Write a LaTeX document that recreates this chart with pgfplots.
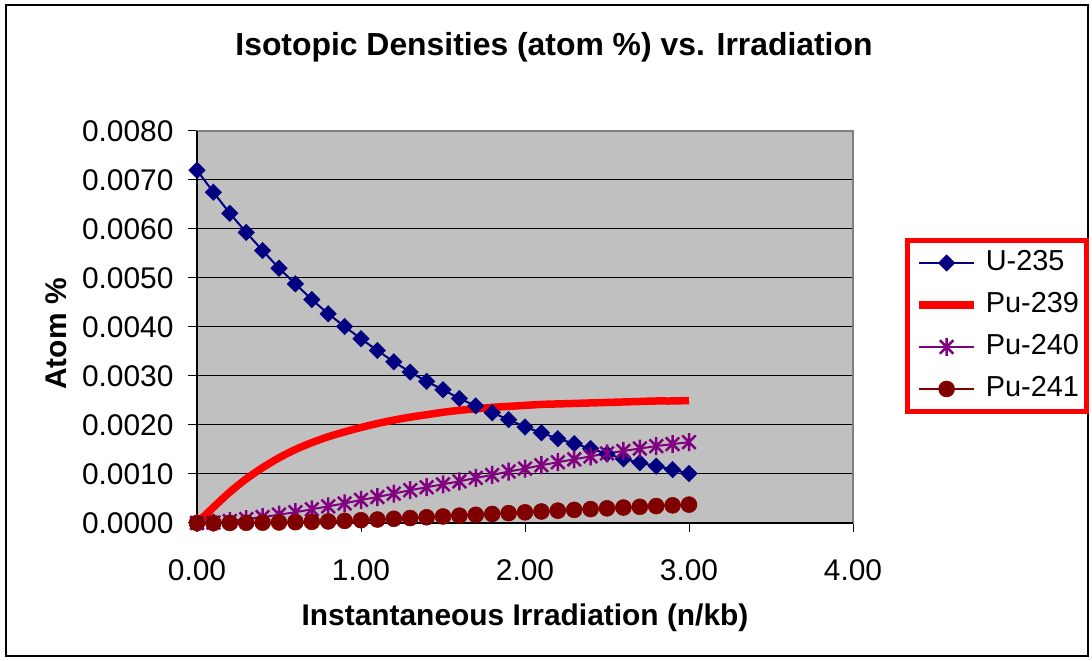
\documentclass[border=0pt]{standalone}
\usepackage{pgfplots}
\pgfplotsset{compat=1.18}
\usepackage{pgfplotstable}
\usepackage{fontspec}
\setmainfont{Liberation Sans}
\definecolor{navyc}{HTML}{000080}
\definecolor{purplec}{HTML}{800080}
\definecolor{maroonc}{HTML}{800000}
\definecolor{plotbg}{HTML}{C0C0C0}
\definecolor{redc}{HTML}{FF0000}

\pgfdeclareplotmark{xstar}{%
  \pgfpathmoveto{\pgfqpoint{0pt}{\pgfplotmarksize}}%
  \pgfpathlineto{\pgfqpoint{0pt}{-\pgfplotmarksize}}%
  \pgfpathmoveto{\pgfqpoint{-0.75\pgfplotmarksize}{-0.75\pgfplotmarksize}}%
  \pgfpathlineto{\pgfqpoint{0.75\pgfplotmarksize}{0.75\pgfplotmarksize}}%
  \pgfpathmoveto{\pgfqpoint{-0.75\pgfplotmarksize}{0.75\pgfplotmarksize}}%
  \pgfpathlineto{\pgfqpoint{0.75\pgfplotmarksize}{-0.75\pgfplotmarksize}}%
  \pgfusepathqstroke}

\pgfplotstableread{
x u235 pu239 pu240 pu241
0.0 0.00720 0.00000 0.00000 0.000000
0.1 0.00675 0.00032 0.00001 0.000000
0.2 0.00632 0.00063 0.00004 0.000002
0.3 0.00593 0.00090 0.00008 0.000004
0.4 0.00556 0.00113 0.00012 0.000007
0.5 0.00520 0.00133 0.00017 0.000011
0.6 0.00488 0.00150 0.00022 0.000016
0.7 0.00456 0.00164 0.00028 0.000023
0.8 0.00427 0.00176 0.00034 0.000032
0.9 0.00401 0.00186 0.00040 0.000043
1.0 0.00376 0.00195 0.00047 0.000057
1.1 0.00352 0.00203 0.00053 0.000071
1.2 0.00329 0.00210 0.00060 0.000086
1.3 0.00308 0.00216 0.00067 0.000101
1.4 0.00289 0.00221 0.00073 0.000117
1.5 0.00272 0.00226 0.00079 0.000133
1.6 0.00254 0.00230 0.00085 0.000150
1.7 0.00239 0.00233 0.00092 0.000167
1.8 0.00225 0.00236 0.00098 0.000184
1.9 0.00211 0.00238 0.00105 0.000201
2.0 0.00196 0.00240 0.00111 0.000218
2.1 0.00184 0.00242 0.00118 0.000235
2.2 0.00172 0.00243 0.00124 0.000252
2.3 0.00162 0.00244 0.00130 0.000268
2.4 0.00152 0.00245 0.00136 0.000284
2.5 0.00141 0.00246 0.00142 0.000300
2.6 0.00131 0.00247 0.00147 0.000315
2.7 0.00123 0.00248 0.00152 0.000330
2.8 0.00116 0.00249 0.00157 0.000345
2.9 0.00109 0.00249 0.00161 0.000360
3.0 0.00101 0.00250 0.00165 0.000375
}\datatable

\begin{document}
\begin{tikzpicture}
\useasboundingbox (0,0) rectangle (1092bp,661bp);
\draw[black, line width=1.2bp] (6bp,5bp) rectangle (1088bp,656bp);
\node[font=\fontsize{32}{37}\selectfont\bfseries] at (554bp,614bp) {Isotopic Densities (atom \%) vs. Irradiation};
\node[font=\fontsize{30}{35}\selectfont\bfseries] at (525bp,43bp) {Instantaneous Irradiation (n/kb)};
\node[font=\fontsize{30}{35}\selectfont\bfseries, rotate=90] at (56bp,327bp) {Atom \%};
\begin{axis}[
  at={(197bp,138bp)}, anchor=south west,
  scale only axis, width=656bp, height=392bp,
  xmin=0, xmax=4, ymin=0, ymax=0.008,
  xtick={0,1,2,3,4}, ytick={0,0.001,...,0.008},
  scaled y ticks=false, scaled x ticks=false,
  xticklabel style={font=\fontsize{30}{35}\selectfont, yshift=-24bp,
    /pgf/number format/.cd, fixed, fixed zerofill, precision=2, assume math mode=true},
  yticklabel style={font=\fontsize{30}{35}\selectfont, xshift=-11bp,
    /pgf/number format/.cd, fixed, fixed zerofill, precision=4, assume math mode=true},
  tick align=outside, xtick pos=left, ytick pos=left,
  major tick length=9bp,
  tick style={black, line width=1bp},
  axis background/.style={fill=plotbg},
  axis line style={draw=gray, line width=1.2bp},
  ymajorgrids, grid style={black, line width=1bp},
  clip=false,
  legend cell align=left,
  legend image code/.code={\draw[mark repeat=2,mark phase=2,#1] plot coordinates {(0bp,0bp) (27.5bp,0bp) (55bp,0bp)};},
  legend style={at={(1.079,0.5026)}, anchor=west, draw=redc, line width=5bp,
    font=\fontsize{29}{34}\selectfont, inner xsep=8bp, inner ysep=9bp,
    row sep=15bp, column sep=8bp,
    nodes={inner sep=0pt, text height=21bp, text depth=6bp}},
]
\addplot[navyc, line width=2bp, mark=square*, mark size=5.8bp, mark options={rotate=45, line width=0.5bp, fill=navyc}] table[x=x, y=u235] {\datatable};
\addlegendentry{U-235}
\addplot[redc, line width=7.5bp, smooth, no marks] table[x=x, y=pu239] {\datatable};
\addlegendentry{Pu-239}
\addplot[purplec, line width=2bp, mark=xstar, mark size=9bp, mark options={line width=2.5bp}] table[x=x, y=pu240] {\datatable};
\addlegendentry{Pu-240}
\addplot[maroonc, line width=2bp, mark=*, mark size=8bp, mark options={line width=0.5bp, fill=maroonc}] table[x=x, y=pu241] {\datatable};
\addlegendentry{Pu-241}
\draw[black, line width=1.2bp] (rel axis cs:0,1) -- (rel axis cs:0,0) -- (rel axis cs:1,0);
\end{axis}
\end{tikzpicture}
\end{document}
